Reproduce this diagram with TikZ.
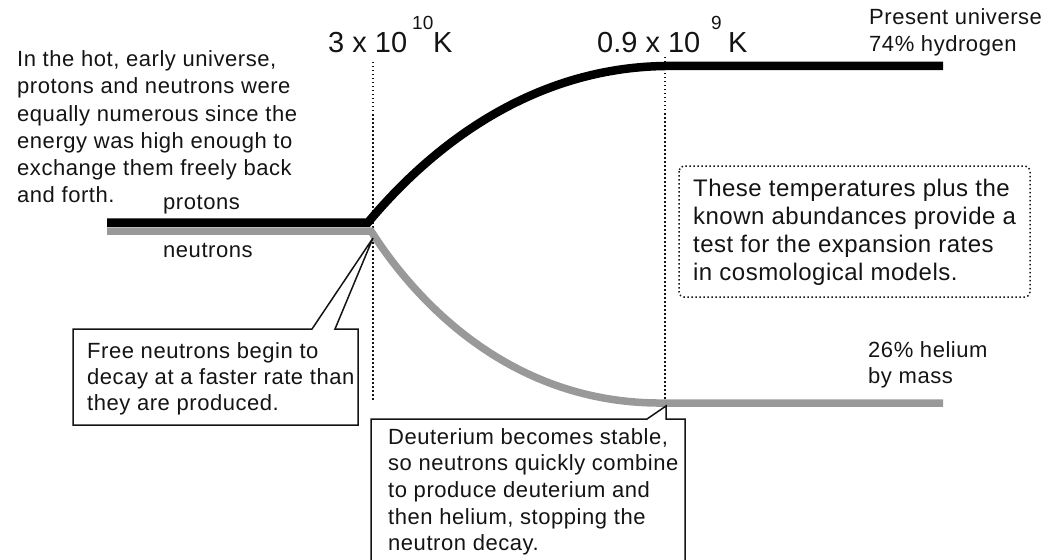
\documentclass[tikz,border=0pt]{standalone}
\usepackage{fontspec}
\setmainfont{Liberation Sans}
\newfontfamily\bodyf{Liberation Sans}[LetterSpace=2.5]
\newfontfamily\notef{Liberation Sans}[LetterSpace=2]
\newfontfamily\plainf{Liberation Sans}
\definecolor{ink}{HTML}{141414}
\definecolor{ngray}{HTML}{999999}
\tikzset{
  txt/.style={anchor=base west, inner sep=0pt, text=ink},
  bodytxt/.style={txt, font=\bodyf\fontsize{22}{27}\selectfont},
  bigtxt/.style={txt, font=\plainf\fontsize{29}{32}\selectfont},
  suptxt/.style={txt, font=\plainf\fontsize{19}{22}\selectfont},
  protonline/.style={line width=8.5pt, black},
  neutronline/.style={line width=7.5pt, ngray},
  guide/.style={line width=1.5pt, ink, dash pattern=on 1.5pt off 2.5pt},
  callout/.style={line width=1.5pt, ink, fill=white, line join=miter},
}
\begin{document}
\begin{tikzpicture}[x=1pt, y=-1pt]
\useasboundingbox (0,0) rectangle (1048,559);
\clip (0,0) rectangle (1048,559);

% guides
\coordinate (g1t) at (373,62);
\coordinate (g1b) at (373,400);
\coordinate (g2t) at (665,57);
\coordinate (g2b) at (665,405);
\draw[guide] (g1t) -- (g1b);
\draw[guide] (g2t) -- (g2b);

% neutron curve
\coordinate (n0) at (107,231);
\coordinate (n1) at (371,231);
\coordinate (n2) at (665,403);
\coordinate (n3) at (943,403);
\draw[neutronline] (n0) -- (n1) .. controls (415,300) and (510,405) .. (n2) -- (n3);

% proton curve
\coordinate (p0) at (107,222.5);
\coordinate (p1) at (368,222.5);
\coordinate (p2) at (665,66);
\coordinate (p3) at (943,66);
\draw[protonline] (p0) -- (p1) .. controls (420,160) and (520,68) .. (p2) -- (p3);

% temperature labels
\node[bigtxt] (t1) at (328,53) {3 x 10};
\node[suptxt] (t1e) at (412,30) {10};
\node[bigtxt] (t1k) at (433,53) {K};
\node[bigtxt] (t2) at (597,53) {0.9 x 10};
\node[suptxt] (t2e) at (711,30) {9};
\node[bigtxt] (t2k) at (728,53) {K};

% left text
\node[bodytxt] (intro) at (17,66.7) {\vtop{\baselineskip=27.2pt
  \hbox{In the hot, early universe,}
  \hbox{protons and neutrons were}
  \hbox{equally numerous since the}
  \hbox{energy was high enough to}
  \hbox{exchange them freely back}
  \hbox{and forth.}}};
\node[bodytxt] (protons) at (163,209) {protons};
\node[bodytxt] (neutrons) at (163,257) {neutrons};

% present universe
\node[bodytxt] (present) at (869,25) {\vtop{\baselineskip=27pt
  \hbox{Present universe}
  \hbox{74\% hydrogen}}};
\node[bodytxt] (helium) at (868,357) {\vtop{\baselineskip=26pt
  \hbox{26\% helium}
  \hbox{by mass}}};

% dotted note box
\coordinate (bx1) at (679,166);
\coordinate (bx2) at (1030,297);
\draw[guide, rounded corners=5pt] (bx1) rectangle (bx2);
\node[txt, font=\notef\fontsize{24}{28}\selectfont] (note) at (693,196) {\vtop{\baselineskip=28.3pt
  \hbox{These temperatures plus the}
  \hbox{known abundances provide a}
  \hbox{test for the expansion rates}
  \hbox{in cosmological models.}}};

% free neutrons callout
\coordinate (tipA) at (373,238);
\draw[callout] (73,329) -- (312,329) -- (tipA) -- (335,329) -- (358,329) -- (358,425) -- (73,425) -- cycle;
\node[bodytxt] (free) at (87,358) {\vtop{\baselineskip=26pt
  \hbox{Free neutrons begin to}
  \hbox{decay at a faster rate than}
  \hbox{they are produced.}}};

% deuterium callout
\coordinate (tipB) at (666,406);
\draw[callout] (371,580) -- (371,419) -- (647,419) -- (tipB) -- (666,419) -- (685,419) -- (685,580);
\node[bodytxt] (deut) at (388,444) {\vtop{\baselineskip=26.7pt
  \hbox{Deuterium becomes stable,}
  \hbox{so neutrons quickly combine}
  \hbox{to produce deuterium and}
  \hbox{then helium, stopping the}
  \hbox{neutron decay.}}};
\end{tikzpicture}
\end{document}
